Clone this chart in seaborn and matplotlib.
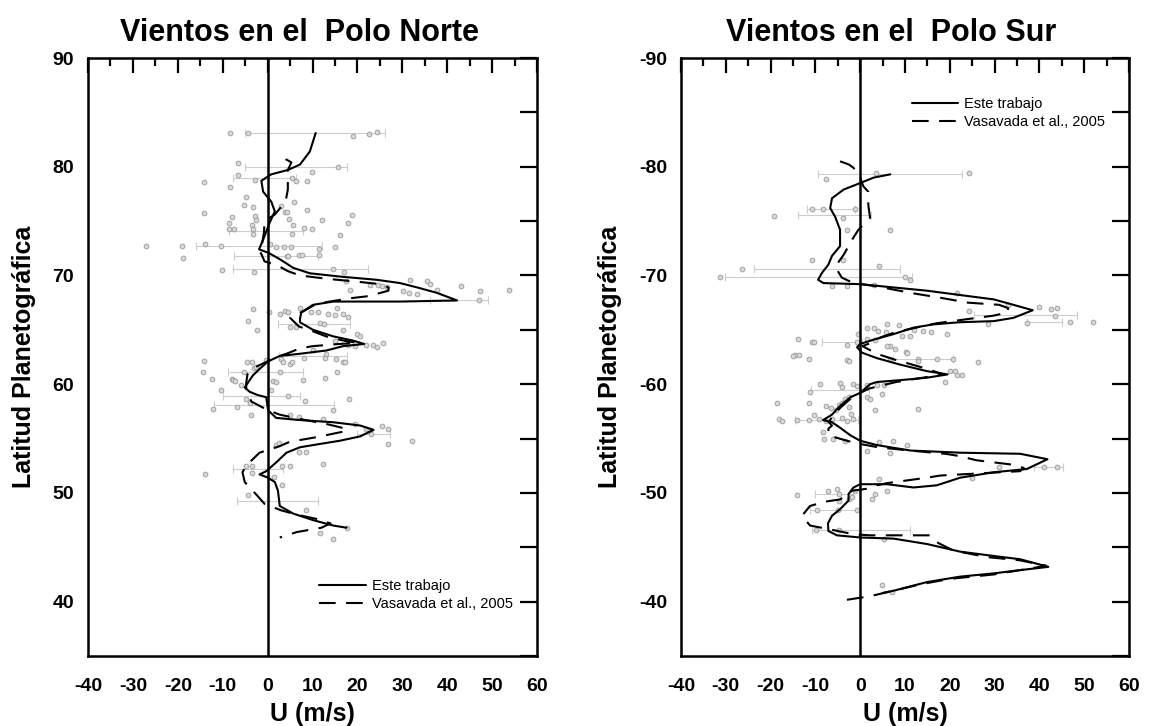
import matplotlib
matplotlib.use("Agg")
import matplotlib.pyplot as plt
from matplotlib.ticker import MultipleLocator
import seaborn as sns
import pandas as pd

# ---- Polo Norte: perfil ajustado (Este trabajo) ----
north_fit_lat = [83.1, 81.4, 80.2, 79.7, 79.3, 78.7, 77.7, 76.8, 75.9, 74.8, 73.6, 72.4, 72.1, 71.5,
                 70.7, 70.2, 69.9, 69.6, 69.3, 68.9, 68.4, 67.7, 67.6, 67.6, 67.3, 66.6, 66.0, 65.7,
                 65.0, 64.4, 64.0, 63.7, 63.5, 63.1, 62.8, 62.6, 62.1, 61.4, 60.8, 59.7, 59.3, 59.0,
                 58.8, 57.6, 56.9, 56.7, 56.5, 56.2, 55.8, 55.2, 54.8, 54.5, 54.2, 53.7, 52.8, 52.0,
                 51.7, 51.4, 51.0, 50.2, 48.8, 48.1, 47.5, 47.0, 46.8]
north_fit_u = [10.7, 9.4, 7.2, 4.5, 0.8, -1.4, -1.0, 0.8, 1.6, 0.4, -0.7, -1.9, 0.1, 2.7,
               5.7, 9.4, 16.1, 24.3, 29.5, 33.3, 37.7, 42.2, 29.5, 14.6, 10.1, 7.5, 7.2, 7.2,
               10.1, 14.6, 19.1, 21.5, 16.8, 13.1, 7.2, 2.7, 0.1, -1.8, -3.3, -5.1, -4.0, -2.2,
               -0.3, 0.1, 1.9, 7.2, 14.6, 20.6, 23.6, 20.6, 16.1, 11.6, 7.2, 4.2, 1.9, -0.3,
               -1.8, 0.1, 1.6, 2.3, 2.7, 5.7, 10.1, 14.6, 17.6]

# ---- Polo Norte: Vasavada et al., 2005 ----
north_v05_lat = [80.7, 80.4, 79.7, 77.9, 76.8, 75.6, 75.0, 74.0, 73.0, 72.4, 71.6, 71.3, 70.9, 70.4,
                 70.0, 69.7, 69.4, 69.2, 68.9, 68.6, 68.1, 67.9, 67.4, 66.7, 66.1, 65.3, 64.8, 64.4,
                 64.0, 63.8, 63.7, 63.5, 63.3, 62.8, 62.6, 62.1, 61.6, 60.9, 60.0, 59.3, 58.4, 57.6,
                 57.2, 56.9, 56.3, 55.9, 55.7, 55.1, 54.7, 54.3, 53.7, 53.1, 52.5, 51.9, 51.0, 49.7,
                 49.0, 48.4, 48.0, 47.6, 47.2, 46.8, 46.4, 45.9]
north_v05_u = [4.0, 5.3, 4.5, 4.5, 4.0, 1.6, -0.7, -0.8, -1.2, -1.9, -1.0, -0.7, 2.3, 4.5,
               7.2, 13.1, 20.6, 25.1, 26.9, 26.9, 22.5, 18.3, 10.9, 7.9, 5.0, 7.0, 10.5, 13.0,
               17.0, 20.0, 16.0, 10.1, 7.2, 4.2, 2.7, 0.0, -2.6, -4.5, -4.8, -4.7, -3.6, 0.1,
               2.7, 6.0, 13.5, 17.5, 17.6, 10.5, 4.9, 2.7, -1.8, -3.3, -4.8, -5.6, -5.1, -2.2,
               -0.7, 3.0, 6.5, 11.0, 14.0, 12.0, 6.5, 2.7]

# ---- Polo Norte: medidas individuales ----
north_pts_u = [-8.3, -4.4, 19.0, 22.5, 24.3, -6.6, 15.6, -6.6, -2.8, 5.4, 6.4, 8.7, -14.2, -8.3, 9.9,
               -4.8, -5.3, -3.3, 2.9, 3.8, 4.4, 5.9, 8.7, -14.1, -7.9, -2.8, 4.8, 12.0, 18.9, -8.7,
               18.0, -3.4, -2.6, -8.7, -7.5, -3.2, -3.2, 5.7, 8.1, 9.9, 5.4, 16.1, -13.9, -10.4, 0.5,
               1.9, 3.6, 5.3, 11.5, 15.0, -27.1, -19.1, -18.8, 4.3, 4.5, 6.9, 7.7, 11.4, -10.1, -3.1,
               14.6, 16.9, 22.8, 24.5, 25.5, 26.6, 31.8, 35.5, 36.2, 30.2, 31.5, 33.3, 37.7, 43.0, 47.4,
               53.8, 47.0, 18.3, 17.4, -3.3, -4.4, -2.4, 0.4, 2.7, 3.8, 4.5, 7.2, 9.7, 11.2, 15.4,
               13.4, 15.0, 16.8, 18.0, 4.9, 6.4, 11.6, 12.5, 16.8, 19.9, 20.6, 15.0, 18.0, 19.5, 21.8,
               23.5, 25.8, 24.3, 10.0, 13.0, 15.3, 16.8, 12.8, 8.2, 2.9, -14.1, -14.3, -12.4, -10.4, -8.0,
               -7.6, -7.2, -6.0, -5.3, -4.5, -3.5, -3.0, -2.6, -0.3, 2.7, 3.4, 4.9, 5.4, 1.3, 1.9,
               0.8, 4.5, 8.3, 7.9, 12.8, 15.4, 17.2, 18.2, -4.8, -4.0, -6.9, -12.1, -3.6, 14.6, 5.0,
               7.0, 12.4, 19.5, 21.8, 22.9, 25.4, 26.9, 26.9, 32.1, 23.0, 1.9, 2.6, 6.9, 8.6, 12.4,
               4.9, 3.1, -3.4, -4.8, -14.0, -3.5, 1.5, 3.1, -4.4, 8.5, 11.6, 14.5, 17.6]
north_pts_lat = [83.1, 83.1, 82.8, 83.0, 83.2, 80.3, 80.0, 79.2, 78.8, 79.0, 78.7, 78.7, 78.6, 78.1, 79.5,
                 77.2, 76.5, 76.3, 76.4, 75.8, 75.8, 76.8, 76.0, 75.7, 75.4, 75.5, 75.2, 75.1, 75.6, 74.8,
                 74.8, 74.6, 75.1, 74.3, 74.3, 74.3, 73.8, 74.6, 74.4, 74.3, 73.8, 73.7, 72.9, 72.7, 72.9,
                 72.6, 72.6, 72.6, 72.4, 72.6, 72.7, 72.7, 71.6, 71.8, 71.8, 71.9, 71.9, 71.9, 70.5, 70.3,
                 70.6, 70.3, 69.1, 69.1, 69.0, 68.9, 69.6, 69.5, 69.2, 68.6, 68.4, 68.3, 68.7, 69.0, 68.6,
                 68.7, 67.7, 68.7, 69.5, 66.9, 65.8, 65.0, 66.6, 66.5, 66.7, 66.6, 67.0, 66.6, 66.6, 67.0,
                 66.5, 66.4, 66.5, 66.2, 65.3, 65.3, 65.6, 65.5, 65.0, 64.6, 64.4, 64.0, 63.6, 63.5, 63.6,
                 63.6, 63.8, 63.4, 63.1, 62.8, 62.3, 62.0, 62.4, 62.4, 62.3, 62.1, 61.1, 60.5, 59.5, 60.5,
                 60.4, 60.3, 59.9, 61.1, 62.0, 62.0, 61.5, 61.6, 62.2, 61.1, 62.0, 61.9, 62.0, 60.3, 60.2,
                 59.5, 58.9, 58.5, 60.4, 60.6, 61.1, 62.0, 58.6, 58.6, 58.3, 57.9, 57.7, 57.2, 57.6, 57.2,
                 57.0, 56.8, 56.3, 55.9, 55.8, 56.2, 55.9, 54.5, 54.8, 55.4, 54.4, 54.6, 53.8, 53.8, 52.7,
                 52.5, 52.5, 52.5, 52.5, 51.7, 51.8, 51.5, 50.7, 49.8, 48.4, 46.3, 45.8, 46.8]
north_err_u = [10.6, 6.3, -0.7, -0.3, -2.0, 1.9, 7.3, 42.6, 10.1, 10.3, 1.4, -1.4, -2.2, 2.2, 23.6, -0.5]
north_err_lat = [83.1, 80.0, 79.0, 74.1, 72.7, 71.8, 70.6, 67.7, 62.6, 65.5, 58.1, 58.9, 52.2, 49.3, 55.4, 61.1]
north_err_dx = [15.6, 11.4, 7.1, 8.2, 14.0, 9.3, 15.1, 6.4, 7.5, 8.0, 13.3, 8.6, 5.6, 9.1, 3.7, 8.4]

# ---- Polo Sur: perfil ajustado (Este trabajo) ----
south_fit_lat = [-79.3, -79.0, -78.5, -77.9, -77.1, -76.2, -75.4, -74.2, -72.7, -71.8, -71.0, -70.2,
                 -69.6, -69.3, -69.2, -68.9, -68.6, -68.2, -67.8, -67.3, -66.8, -66.1, -65.8, -65.7,
                 -65.5, -65.2, -64.6, -64.1, -63.7, -63.4, -62.9, -62.4, -61.8, -61.2, -60.9, -60.6,
                 -60.4, -60.2, -60.0, -59.2, -58.8, -58.0, -57.2, -56.7, -56.5, -56.0, -55.3, -54.8,
                 -54.4, -53.9, -53.7, -53.6, -53.1, -52.2, -51.9, -51.4, -50.7, -50.5, -50.8, -50.8,
                 -50.8, -50.5, -49.9, -49.3, -48.5, -47.9, -47.2, -46.5, -46.1, -45.9, -45.8, -45.3,
                 -44.6, -44.2, -43.9, -43.2, -42.9, -42.6, -42.3, -41.8, -41.0, -40.8]
south_fit_u = [6.7, 3.0, 0.0, -3.7, -6.3, -6.7, -5.6, -4.5, -4.5, -6.3, -7.1, -8.6,
               -9.4, -8.2, 0.0, 7.4, 14.9, 22.3, 29.8, 34.2, 38.5, 34.2, 29.8, 22.3,
               16.3, 11.9, 7.4, 3.0, 0.0, -0.7, 0.4, 3.7, 8.9, 14.9, 19.5, 14.9,
               9.7, 3.7, 2.2, 0.0, -2.2, -4.5, -6.3, -8.3, -6.3, -4.5, -2.2, 0.0,
               3.7, 11.2, 22.3, 35.7, 41.8, 37.2, 29.8, 22.3, 17.1, 11.9, 6.0, 1.5,
               0.0, -1.5, -2.6, -2.6, -4.5, -6.3, -7.2, -7.1, -5.2, 0.0, 7.4, 14.9,
               22.3, 29.8, 35.7, 42.0, 35.7, 29.8, 22.3, 14.9, 7.4, 5.0]

# ---- Polo Sur: Vasavada et al., 2005 ----
south_v05_lat = [-80.5, -80.2, -79.9, -79.0, -78.2, -77.7, -76.5, -75.3, -74.2, -73.5, -71.9, -70.8,
                 -69.8, -69.3, -69.0, -68.4, -67.9, -67.5, -67.3, -67.0, -66.6, -66.3, -66.1, -65.6,
                 -64.8, -64.3, -63.9, -63.5, -62.8, -62.3, -61.4, -60.9, -60.6, -60.2, -59.6, -58.9,
                 -58.0, -57.2, -56.5, -56.2, -55.9, -55.3, -54.8, -54.5, -54.2, -53.9, -53.6, -53.4,
                 -53.0, -52.8, -52.6, -52.3, -52.0, -51.9, -51.6, -51.4, -50.9, -50.7, -50.4, -50.2,
                 -49.4, -49.2, -48.8, -47.9, -47.0, -46.7, -46.2, -46.1, -46.1, -46.1, -45.4, -44.7,
                 -44.1, -43.8, -43.3, -42.9, -42.5, -42.1, -41.6, -41.0, -40.5, -40.1]
south_v05_u = [-4.5, -2.5, -1.5, 0.0, 0.7, 1.8, 1.8, 2.2, -0.4, -1.5, -3.7, -5.6,
               -4.1, -1.5, 3.7, 11.2, 18.6, 24.0, 31.0, 33.0, 33.0, 29.7, 26.0, 17.0,
               8.0, 4.5, 3.0, 0.5, 3.7, 7.4, 15.0, 18.5, 14.0, 8.0, 2.0, -1.5,
               -4.0, -6.0, -7.0, -6.3, -7.1, -7.1, -3.0, 0.0, 4.0, 11.0, 19.0, 22.0,
               26.0, 30.0, 34.0, 36.5, 35.7, 31.2, 17.9, 14.9, 6.0, 3.7, 1.8, -1.8,
               -4.5, -7.8, -11.2, -13.0, -11.2, -7.4, -1.5, 2.2, 8.9, 15.6, 17.4, 20.8,
               28.3, 35.7, 41.5, 35.7, 29.8, 20.1, 13.5, 7.4, 2.2, -4.1]

# ---- Polo Sur: medidas individuales ----
south_pts_u = [-7.6, 3.6, 24.2, -10.8, -8.3, -1.1, -3.9, -19.2, -3.0, 6.7, -10.8, -3.9, 4.1, -26.4,
               -31.4, 10.0, 11.1, -6.3, -3.0, 3.0, 21.6, 24.2, 33.0, 40.0, 42.5, 44.0, 43.5, 46.9,
               51.9, 37.2, 28.6, 1.5, 3.0, 6.0, 8.6, 11.9, 14.0, 15.8, 19.3, 3.9, 5.8, 9.4, 11.2,
               1.6, 3.4, -0.6, -0.8, -13.8, -10.8, -10.3, -3.0, 6.7, 7.8, 10.2, -14.5, -13.7, -11.5,
               -3.0, 6.7, 13.0, 17.2, 20.8, 26.4, 20.1, 21.2, -14.9, -2.6, 6.0, 10.4, 13.0, 21.6,
               22.7, 19.0, -4.5, -4.1, -8.9, -11.3, -1.7, -0.7, 1.5, 3.7, 5.2, 1.5, 2.2, 3.3, 4.8,
               13.0, -18.6, -11.5, -7.6, -6.5, -5.5, -4.8, -4.0, -3.3, -2.6, -2.6, -2.0, -18.2, -17.5,
               -14.1, -11.5, -10.4, -9.3, -7.7, -6.3, -4.1, -3.0, -1.5, -8.2, -8.0, -6.0, -3.4, 1.5,
               6.7, 10.4, 4.2, 7.4, 30.9, 4.1, 41.0, 44.0, 24.9, -14.1, -7.1, -5.2, -4.8, -4.8, -2.6,
               -1.8, -1.1, 3.3, 2.6, 6.0, -9.7, -5.0, -0.7, -9.8, -4.8, 5.2, 4.8, 7.1]
south_pts_lat = [-78.9, -79.4, -79.4, -76.1, -76.1, -76.1, -75.3, -75.5, -74.2, -74.2, -71.4, -71.4, -70.9,
                 -70.6, -69.9, -69.9, -69.6, -69.0, -69.0, -69.1, -68.4, -66.7, -67.3, -67.1, -66.9, -67.0,
                 -66.3, -65.7, -65.7, -65.6, -65.5, -65.2, -65.2, -65.5, -65.4, -65.0, -64.9, -64.8, -64.6,
                 -64.9, -64.8, -64.4, -64.4, -64.2, -64.1, -64.6, -63.9, -64.2, -63.9, -63.9, -63.6, -63.5,
                 -63.2, -63.0, -62.7, -62.7, -62.3, -62.2, -62.3, -62.3, -62.3, -62.3, -62.0, -61.2, -61.2,
                 -62.6, -62.1, -63.5, -62.9, -62.1, -60.8, -60.8, -60.2, -60.1, -59.7, -60.0, -59.3, -60.0,
                 -59.8, -59.9, -59.9, -59.9, -58.8, -58.6, -57.6, -59.1, -57.7, -58.3, -58.3, -58.0, -57.8,
                 -57.6, -58.1, -58.3, -58.6, -58.8, -57.9, -57.3, -56.8, -56.6, -56.7, -56.7, -57.2, -56.8,
                 -56.6, -56.8, -56.9, -56.6, -56.8, -55.6, -55.0, -55.0, -54.8, -53.9, -53.7, -54.4, -54.7,
                 -54.8, -52.4, -51.3, -52.4, -52.4, -51.4, -49.8, -50.2, -50.4, -49.9, -49.3, -49.4, -49.6,
                 -50.2, -49.9, -49.4, -50.2, -48.4, -48.4, -48.4, -46.6, -46.6, -45.8, -41.5, -40.9]
south_err_u = [6.7, -6.5, -5.8, -7.4, -9.3, 36.8, 41.1, -7.5, 42.0, -5.8, -5.6, 0.2, -4.0, 14.1, -4.5]
south_err_lat = [-79.3, -76.1, -75.6, -70.6, -69.9, -66.4, -65.7, -56.7, -52.4, -49.9, -48.4, -46.6,
                 -63.9, -62.3, -59.5]
south_err_dx = [16.1, 5.4, 8.1, 16.3, 20.8, 11.5, 3.9, 7.0, 3.3, 4.3, 5.6, 11.0, 4.5, 6.7, 6.5]

legend_labels = ["Este trabajo", "Vasavada et al., 2005"]

sns.set_theme(style="white")
plt.rcParams["font.family"] = ["Liberation Sans", "DejaVu Sans"]
plt.rcParams["axes.unicode_minus"] = False
plt.rcParams["text.color"] = "black"
plt.rcParams["axes.labelcolor"] = "black"
plt.rcParams["xtick.color"] = "black"
plt.rcParams["ytick.color"] = "black"

fig = plt.figure(figsize=(11.49, 7.26), dpi=100)
ax_n = fig.add_axes([0.0766, 0.0964, 0.3908, 0.8237])
ax_s = fig.add_axes([0.5927, 0.0964, 0.3899, 0.8237])

panels = [
    (ax_n, "Vientos en el  Polo Norte", north_fit_u, north_fit_lat, north_v05_u, north_v05_lat,
     north_pts_u, north_pts_lat, north_err_u, north_err_lat, north_err_dx, (35, 90)),
    (ax_s, "Vientos en el  Polo Sur", south_fit_u, south_fit_lat, south_v05_u, south_v05_lat,
     south_pts_u, south_pts_lat, south_err_u, south_err_lat, south_err_dx, (-35, -90)),
]

for ax, title, fu, flat, vu, vlat, pu, plat, eu, elat, edx, ylim in panels:
    ax.errorbar(eu, elat, xerr=edx, fmt="none", ecolor="#cdcdcd", elinewidth=0.8,
                capsize=3, capthick=0.8, zorder=1)
    sns.scatterplot(x=pu, y=plat, ax=ax, s=12, color="#d8d8d8", edgecolor="#999999",
                    linewidth=0.6, zorder=2)
    ax.axvline(0, color="black", lw=1.8, zorder=3)
    fit = pd.DataFrame({"U": fu, "lat": flat})
    v05 = pd.DataFrame({"U": vu, "lat": vlat})
    sns.lineplot(data=fit, x="U", y="lat", sort=False, estimator=None, ax=ax, color="black",
                 lw=1.5, label=legend_labels[0], zorder=4)
    sns.lineplot(data=v05, x="U", y="lat", sort=False, estimator=None, ax=ax, color="black",
                 lw=1.5, linestyle=(0, (8, 5)), label=legend_labels[1], zorder=4)

    ax.set_xlim(-40, 60)
    ax.set_ylim(*ylim)
    ax.xaxis.set_major_locator(MultipleLocator(10))
    ax.xaxis.set_minor_locator(MultipleLocator(5))
    ax.yaxis.set_major_locator(MultipleLocator(10))
    ax.yaxis.set_minor_locator(MultipleLocator(5))
    ax.tick_params(axis="both", which="both", direction="in", top=True, right=True,
                   color="black", width=1.6)
    ax.tick_params(axis="x", which="major", length=11, pad=16)
    ax.tick_params(axis="x", which="minor", length=5.5)
    ax.tick_params(axis="y", which="both", length=12, pad=10)
    for lab in ax.get_xticklabels() + ax.get_yticklabels():
        lab.set_fontsize(14)
        lab.set_fontweight("bold")
    for sp in ax.spines.values():
        sp.set_color("black")
        sp.set_linewidth(1.8)

    ax.set_title(title, fontsize=22, fontweight="bold", x=0.47, pad=12)
    ax.set_xlabel("U (m/s)", fontsize=18, fontweight="bold", labelpad=5)
    ax.set_ylabel("Latitud Planetográfica", fontsize=18, fontweight="bold", labelpad=12)

ax_n.legend(loc="lower left", bbox_to_anchor=(0.515, 0.075), frameon=False, fontsize=10.5,
            handlelength=3.2, handletextpad=0.4, borderpad=0, borderaxespad=0, labelspacing=0.3)
ax_s.legend(loc="upper left", bbox_to_anchor=(0.515, 0.935), frameon=False, fontsize=10.5,
            handlelength=3.2, handletextpad=0.4, borderpad=0, borderaxespad=0, labelspacing=0.3)

fig.savefig("out.png", dpi=100)
